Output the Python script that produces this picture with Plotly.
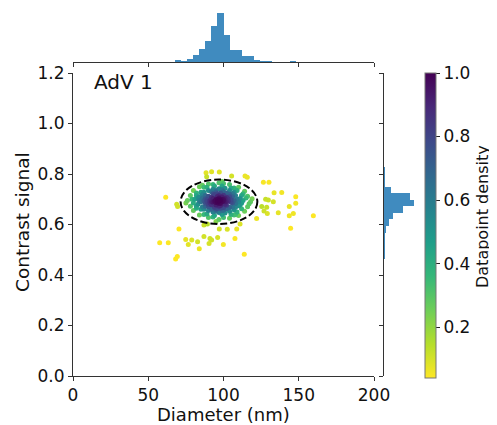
import numpy as np
import plotly.graph_objects as go

# ---------------- data ----------------
# scatter: diameter (nm) and contrast signal
diam_core = [97, 96, 98, 95, 99, 97, 96, 98, 94, 100, 97, 95, 99, 96, 98, 93, 101, 97, 95, 100,
             91, 103, 97, 97, 92, 102, 92, 102, 89, 105, 94, 100, 94, 100, 88, 106, 90, 104, 96, 98,
             93, 101, 91, 103, 95, 99, 89, 105, 96, 98,
             87, 107, 90, 104, 90, 104, 95, 100, 95, 100, 86, 108, 93, 102, 92, 98, 96, 101, 88, 106,
             84, 110, 97, 97, 86, 108, 86, 108, 90, 104, 90, 104, 83, 111, 83, 111, 93, 101, 93, 101,
             87, 107, 87, 107, 85, 109, 92, 102, 92, 102, 88, 106, 88, 106, 95, 99, 84, 110, 95, 99,
             81, 113, 80, 115, 85, 109, 85, 109, 89, 105, 89, 105, 94, 99, 94, 99, 82, 112, 82, 112,
             76, 118, 78, 116, 78, 116, 80, 114, 80, 114, 84, 110, 84, 110, 90, 104, 90, 104, 97, 97,
             75, 119, 82, 113, 82, 112, 87, 107, 87, 107, 93, 100, 93, 100, 79, 117, 86, 108, 95, 99]
sig_core = [0.693, 0.690, 0.696, 0.695, 0.691, 0.700, 0.686, 0.688, 0.692, 0.694, 0.684, 0.699, 0.699, 0.697, 0.683, 0.689, 0.690, 0.705, 0.687, 0.700,
            0.695, 0.692, 0.715, 0.672, 0.708, 0.708, 0.678, 0.676, 0.690, 0.698, 0.718, 0.716, 0.668, 0.667, 0.702, 0.685, 0.680, 0.710, 0.722, 0.664,
            0.703, 0.680, 0.686, 0.702, 0.677, 0.709, 0.698, 0.688, 0.711, 0.675,
            0.694, 0.695, 0.712, 0.720, 0.670, 0.668, 0.728, 0.730, 0.660, 0.656, 0.705, 0.683, 0.722, 0.690, 0.690, 0.725, 0.663, 0.703, 0.684, 0.710,
            0.694, 0.690, 0.742, 0.648, 0.718, 0.715, 0.670, 0.668, 0.735, 0.735, 0.655, 0.652, 0.705, 0.703, 0.680, 0.678, 0.740, 0.744, 0.650, 0.646,
            0.728, 0.728, 0.660, 0.658, 0.690, 0.700, 0.730, 0.725, 0.660, 0.662, 0.715, 0.722, 0.672, 0.668, 0.735, 0.655, 0.710, 0.674, 0.652, 0.738,
            0.700, 0.695, 0.685, 0.705, 0.728, 0.735, 0.660, 0.650, 0.748, 0.745, 0.642, 0.640, 0.752, 0.752, 0.636, 0.640, 0.715, 0.715, 0.672, 0.684,
            0.695, 0.690, 0.715, 0.712, 0.672, 0.670, 0.735, 0.732, 0.655, 0.652, 0.750, 0.748, 0.638, 0.636, 0.760, 0.758, 0.628, 0.625, 0.765, 0.620,
            0.685, 0.702, 0.725, 0.722, 0.664, 0.662, 0.748, 0.745, 0.640, 0.638, 0.758, 0.762, 0.630, 0.628, 0.700, 0.682, 0.755, 0.640, 0.612, 0.770]
diam_out = [88.4, 92.1, 97.2, 88.8, 105.4, 114.3, 115.8, 126.5, 130.2, 61.6, 133.6, 138.7, 148.0, 148.0,
            68.9, 69.5, 128.0, 129.8, 133.1, 125.4, 128.7, 126.9, 129.1, 136.4, 143.7, 146.4, 143.7, 159.7,
            122.0, 144.6, 70.4, 87.0, 89.3, 97.2, 102.5, 108.8, 111.0, 57.6, 63.3, 74.9, 78.9, 82.8,
            87.0, 91.0, 96.1, 76.6, 83.9, 90.4, 92.1, 99.9, 107.6, 113.8, 68.2, 69.3]
sig_out = [0.805, 0.809, 0.808, 0.789, 0.792, 0.792, 0.787, 0.767, 0.767, 0.708, 0.726, 0.727, 0.710, 0.684,
           0.680, 0.671, 0.700, 0.697, 0.690, 0.671, 0.668, 0.653, 0.644, 0.647, 0.671, 0.644, 0.635, 0.635,
           0.624, 0.585, 0.582, 0.598, 0.602, 0.582, 0.581, 0.582, 0.602, 0.528, 0.528, 0.541, 0.539, 0.532,
           0.552, 0.545, 0.549, 0.521, 0.504, 0.525, 0.539, 0.521, 0.545, 0.482, 0.463, 0.473]

# marginal histogram of diameter (bin start in nm, width 4 nm)
diam_bin_start = [56, 60, 64, 68, 72, 76, 80, 84, 88, 92, 96, 100, 104, 108, 112, 116, 120, 124, 128,
                  132, 136, 140, 144, 148, 152, 156, 160]
diam_counts = [2, 2, 2, 5, 4, 8, 16, 28, 44, 74, 100, 56, 26, 26, 14, 14, 6, 4, 4, 2, 2, 2, 4, 0, 0, 0, 2]
diam_bin_width = 4

# marginal histogram of contrast signal (bin start, width 0.026)
sig_bin_start = [0.464, 0.490, 0.516, 0.542, 0.568, 0.594, 0.620, 0.646, 0.672, 0.698, 0.724, 0.750, 0.776, 0.802]
sig_counts = [3, 2, 4, 4, 9, 20, 37, 75, 123, 105, 30, 6, 5, 2]
sig_bin_width = 0.026

# fitted ellipse (center and semi-axes)
ell_center = (97.0, 0.690)
ell_radius = (25.5, 0.088)

label_text = "AdV 1"

# ---------------- density colouring ----------------
xd = np.array(diam_core + diam_out, dtype=float)
yd = np.array(sig_core + sig_out, dtype=float)
pts = np.vstack([xd, yd])
n = pts.shape[1]
factor = n ** (-1.0 / 6.0)
cov = np.cov(pts) * factor ** 2
inv = np.linalg.inv(cov)
diff = pts[:, :, None] - pts[:, None, :]
q = np.einsum('ij,jkl,ikl->kl', inv, diff, diff)
dens = np.exp(-0.5 * q).sum(axis=1)
dens = dens / dens.max()
order = np.argsort(dens)
xd, yd, dens = xd[order], yd[order], dens[order]

W, H = 497, 425
OFF = 8  # page body margin
FONT = "DejaVu Sans"
BLUE = "rgba(31,119,180,0.85)"

def px_x(p):
    return (p - OFF) / W

def px_y(p):
    return (H - (p - OFF)) / H

fig = go.Figure()

fig.add_trace(go.Scatter(
    x=xd, y=yd, mode="markers", xaxis="x", yaxis="y",
    marker=dict(size=5, color=dens, colorscale="Viridis", reversescale=True,
                cmin=0.04, cmax=1.0, line=dict(width=0),
                colorbar=dict(x=px_x(425), xanchor="left", xpad=0, ypad=0,
                              y=px_y(378), yanchor="bottom", len=(378 - 73) / H, lenmode="fraction",
                              thickness=11, thicknessmode="pixels",
                              tickvals=[0.2, 0.4, 0.6, 0.8, 1.0], ticktext=["0.2", "0.4", "0.6", "0.8", "1.0"],
                              ticks="outside", ticklen=4, tickcolor="#222",
                              tickfont=dict(family=FONT, size=17, color="#111"),
                              outlinewidth=1, outlinecolor="#777")),
    showlegend=False, hoverinfo="x+y"))

fig.add_trace(go.Bar(
    x=[s + diam_bin_width / 2 for s in diam_bin_start], y=diam_counts, width=diam_bin_width,
    xaxis="x2", yaxis="y2", marker=dict(color=BLUE, line=dict(width=0)), showlegend=False))

fig.add_trace(go.Bar(
    y=[s + sig_bin_width / 2 for s in sig_bin_start], x=sig_counts, width=sig_bin_width,
    orientation="h", xaxis="x3", yaxis="y3", marker=dict(color=BLUE, line=dict(width=0)), showlegend=False))

fig.add_shape(type="circle", xref="x", yref="y",
              x0=ell_center[0] - ell_radius[0], x1=ell_center[0] + ell_radius[0],
              y0=ell_center[1] - ell_radius[1], y1=ell_center[1] + ell_radius[1],
              line=dict(color="black", width=2, dash="7px,3px"))

axis_common = dict(showgrid=False, zeroline=False, showline=True, linecolor="#333", linewidth=1,
                   ticks="outside", ticklen=4, tickcolor="#333",
                   tickfont=dict(family=FONT, size=17, color="#111"))
axis_nofont = {k: v for k, v in axis_common.items() if k != "tickfont"}

fig.update_layout(
    width=W, height=H, margin=dict(l=0, r=0, t=0, b=0, autoexpand=False),
    paper_bgcolor="white", plot_bgcolor="white", bargap=0,
    font=dict(family=FONT, color="#111"),
    xaxis=dict(domain=[px_x(73), px_x(374)], range=[0, 200], tickvals=[0, 50, 100, 150, 200],
               anchor="y", **axis_common),
    yaxis=dict(domain=[px_y(376), px_y(73)], range=[0, 1.2], tickvals=[0, 0.2, 0.4, 0.6, 0.8, 1.0, 1.2],
               tickformat=".1f", anchor="x", **axis_common),
    xaxis2=dict(domain=[px_x(73), px_x(374)], matches="x", anchor="y2", showticklabels=False,
                tickvals=[0, 50, 100, 150, 200], **axis_nofont),
    yaxis2=dict(domain=[px_y(62), px_y(9.5)], range=[0, max(diam_counts) * 1.05], visible=False, anchor="x2"),
    xaxis3=dict(domain=[px_x(384), px_x(416)], range=[0, max(sig_counts) * 1.05], visible=False, anchor="y3"),
    yaxis3=dict(domain=[px_y(376), px_y(73)], matches="y", anchor="x3", showticklabels=False,
                tickvals=[0, 0.2, 0.4, 0.6, 0.8, 1.0, 1.2], **axis_nofont),
    annotations=[
        dict(text=label_text, x=px_x(92), y=px_y(82), xref="paper", yref="paper", xanchor="left",
             yanchor="middle", showarrow=False, font=dict(family=FONT, size=20, color="#111")),
        dict(text="Diameter (nm)", x=px_x(223.5), y=px_y(414), xref="paper", yref="paper",
             xanchor="center", yanchor="middle", showarrow=False, font=dict(family=FONT, size=18, color="#111")),
        dict(text="Contrast signal", x=px_x(22), y=px_y(222), xref="paper", yref="paper", textangle=-90,
             xanchor="center", yanchor="middle", showarrow=False, font=dict(family=FONT, size=18.5, color="#111")),
        dict(text="Datapoint density", x=px_x(482), y=px_y(217), xref="paper", yref="paper", textangle=-90,
             xanchor="center", yanchor="middle", showarrow=False, font=dict(family=FONT, size=16, color="#111")),
    ],
)

fig.write_html("out.html")
